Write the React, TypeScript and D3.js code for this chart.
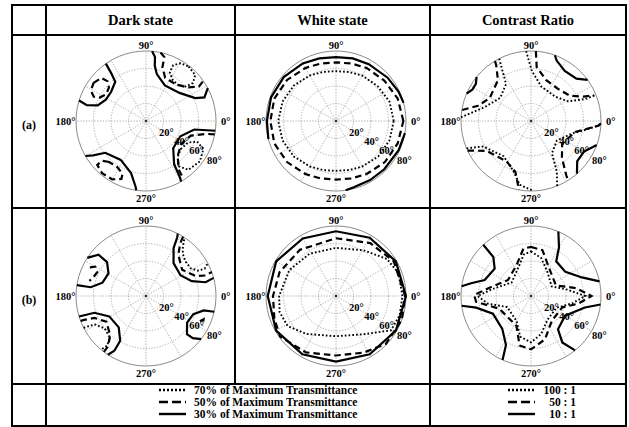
import React from "react";
import * as d3 from "d3";

type P = [number, number]; // [azimuth deg, polar angle deg]
type Style = "dotted" | "dashed" | "solid";
type Curve = { pts: P[]; style: Style; closed?: boolean };

const columnTitles = ["Dark state", "White state", "Contrast Ratio"];
const rowLabels = ["(a)", "(b)"];
const ringTicks = [20, 40, 60, 80];
const spokeAngles = [0, 30, 60, 90, 120, 150, 180, 210, 240, 270, 300, 330];
const compassLabels = ["0°", "90°", "180°", "270°"];
const transmittanceLegend = [
  "70% of Maximum Transmittance",
  "50% of Maximum Transmittance",
  "30% of Maximum Transmittance",
];
const contrastLegend = ["100 : 1", "50 : 1", "10 : 1"];
const legendStyles: Style[] = ["dotted", "dashed", "solid"];

// ---- Dark state (a)
const darkA_NE_solid: P[] = [[85, 80], [82, 74], [81, 64], [77, 55], [62, 46], [40, 50], [25, 62], [22, 72], [28, 80]];
const darkA_NE_dashed: P[] = [[78, 80], [74, 76], [73, 64], [66, 54], [51, 54], [39, 61], [33, 72], [35, 80]];
const darkA_NE_dotted: P[] = [[52, 79], [43, 77], [39, 69], [41, 60], [48, 55], [57, 56], [64, 62], [64, 71], [59, 77]];
const darkA_NW_solid: P[] = [[125, 80], [126, 68], [128, 57], [140, 52], [152, 52], [162, 58], [165, 70], [163, 80]];
const darkA_NW_dashed: P[] = [[144, 74], [136, 71], [134, 63], [138, 57], [146, 55], [153, 59], [155, 66], [151, 72]];
const darkA_SW_solid: P[] = [[210, 80], [213, 72], [218, 59], [237, 53], [254, 62], [261, 76], [262, 80]];
const darkA_SW_dashed: P[] = [[228, 63], [222, 68], [222, 75], [230, 78], [240, 77], [247, 72], [246, 66], [238, 62]];
const darkA_SE_solid: P[] = [[352, 80], [350, 56], [336, 43], [315, 44], [303, 59], [301, 76], [300, 80]];
const darkA_SE_dashed: P[] = [[349, 80], [348, 71], [342, 54], [327, 48], [312, 54], [304, 67], [303, 78]];
const darkA_SE_dotted: P[] = [[321, 51], [333, 54], [338, 63], [334, 73], [323, 77], [311, 74], [306, 64], [311, 55]];

// ---- White state (a)
const whiteA_dotted: P[] = [[0, 66], [20, 65], [40, 62], [60, 60], [75, 58], [90, 57], [105, 58], [120, 60], [140, 63], [160, 65], [180, 66], [200, 65], [220, 63], [240, 60], [255, 58], [270, 57], [285, 58], [300, 60], [320, 63], [340, 65]];
const whiteA_dashed: P[] = [[0, 77], [20, 75], [40, 72], [60, 70], [75, 68], [90, 67], [105, 68], [120, 70], [140, 73], [160, 75], [180, 75], [200, 75], [220, 73], [240, 70], [255, 68], [270, 67], [285, 68], [300, 70], [320, 73], [340, 75]];
const whiteA_solid_top: P[] = [[195, 80], [180, 79], [160, 79], [140, 78], [120, 76], [105, 74], [90, 73], [75, 74], [60, 75], [40, 77], [25, 79], [15, 80]];
const whiteA_solid_bottom: P[] = [[350, 80], [335, 79], [315, 78], [300, 78], [285, 78.5], [278, 80]];

// ---- Contrast ratio (a)
const crA_dotted_NE: P[] = [[94, 80], [89, 57], [73, 41], [46, 39], [28, 48], [22, 67], [22, 80]];
const crA_dotted_NW: P[] = [[117, 80], [124, 51], [143, 44], [163, 55], [177, 80]];
const crA_dotted_SW: P[] = [[203, 80], [208, 62], [232, 51], [250, 60], [260, 74], [272, 80]];
const crA_dotted_SE: P[] = [[292, 80], [297, 65], [303, 44], [323, 37], [343, 49], [352, 66], [357, 80]];
const crA_dashed_NE: P[] = [[86, 80], [84, 62], [70, 50], [50, 48], [33, 53], [25, 66], [22, 78]];
const crA_dashed_NW: P[] = [[121, 80], [122, 75], [129, 60], [151, 54], [164, 63], [171, 80]];
const crA_dashed_SW: P[] = [[205, 80], [214, 61], [239, 54], [253, 61], [258, 73], [260, 80]];
const crA_dashed_SE: P[] = [[358, 80], [356, 77], [346, 52], [324, 44], [310, 55], [303, 74], [302, 80]];
const crA_solid_NE: P[] = [[70, 80], [67, 75], [56, 69], [43, 71], [36, 80]];
const crA_solid_NW: P[] = [[157, 80], [152, 76], [146, 76], [141, 80]];
const crA_solid_SE: P[] = [[311, 80], [319, 70], [330, 70], [340, 80]];

// ---- Dark state (b)
const darkB_NE_solid: P[] = [[63, 80], [62, 76], [60, 63], [50, 49], [31, 46], [18, 55], [13, 70], [15, 80]];
const darkB_NE_dashed: P[] = [[58, 80], [57, 72], [52, 60], [36, 51], [22, 61], [19, 72], [20, 80]];
const darkB_NE_dotted: P[] = [[56, 78], [53, 70], [49, 64], [41, 60], [32, 60], [26, 66], [25, 74], [28, 80]];
const darkB_NW_solid: P[] = [[147, 80], [139, 72], [139, 59], [149, 50], [163, 52], [171, 64], [171, 80]];
const darkB_NW_dashed: P[] = [[153, 72], [150, 67], [154, 62], [161, 64], [165, 67]];
const darkB_SW_solid: P[] = [[197, 80], [198, 62], [209, 48], [229, 47.5], [240, 59], [240, 72], [237, 80]];
const darkB_SW_dashed: P[] = [[201, 80], [201, 77], [203, 64], [213, 54], [228, 61], [233, 73], [233, 80]];
const darkB_SW_dotted: P[] = [[207, 80], [209, 67], [218, 60], [229, 63], [232, 72], [230, 80]];
const darkB_SE_solid: P[] = [[347, 80], [346, 68], [339, 58], [327, 56], [317, 64], [318, 72], [322, 80]];
const darkB_SE_dashed: P[] = [[335, 68], [338, 71], [332, 73]];

// ---- White state (b)
const whiteB_dotted: P[] = [[0, 76], [20, 76], [36, 72], [59, 61], [90, 55], [122, 57], [151, 61], [180, 65], [196, 67], [212, 65], [232, 55], [270, 46], [306, 54], [328, 74], [343, 76]];
const whiteB_dashed: P[] = [[0, 79], [31, 77], [57, 72], [90, 66], [128, 67], [157, 70], [180, 72], [200, 75], [216, 79], [242, 73], [270, 68], [296, 72], [316, 79], [340, 80]];
const whiteB_solid: P[] = [[0, 80], [30, 79], [60, 77], [90, 74], [120, 76], [150, 79], [180, 78], [210, 79], [240, 77], [270, 75], [300, 77], [330, 79]];

// ---- Contrast ratio (b)
const crB_solid_NE: P[] = [[67, 80], [60, 64], [54, 49], [35, 48], [20, 62], [12, 80]];
const crB_solid_NW: P[] = [[133, 80], [134, 62], [143, 52], [161, 56], [168, 70], [172, 80]];
const crB_solid_SW: P[] = [[188, 80], [192, 64], [205, 48], [229, 50], [243, 63], [246, 80]];
const crB_solid_SE: P[] = [[353, 80], [348, 63], [330, 45], [309, 49], [304, 64], [309, 80]];
const crB_dashed: P[] = [[90, 56], [76, 54], [59, 39], [23, 31], [10, 52], [0, 69], [351, 55], [340, 38], [310, 37], [288, 52], [270, 61], [257, 58], [244, 38], [202, 39], [186, 63], [179, 65], [170, 50], [145, 32], [115, 39], [99, 55]];
const crB_dotted: P[] = [[90, 51], [75, 45], [55, 33], [25, 26], [10, 42], [0, 62], [350, 48], [335, 32], [305, 33], [285, 45], [270, 53], [255, 48], [240, 33], [205, 30], [190, 50], [180, 61], [170, 45], [145, 27], [115, 35], [100, 48]];

const panels: { row: number; col: number; curves: Curve[] }[] = [
  {
    row: 0, col: 0, curves: [
      { pts: darkA_NE_solid, style: "solid" }, { pts: darkA_NE_dashed, style: "dashed" }, { pts: darkA_NE_dotted, style: "dotted", closed: true },
      { pts: darkA_NW_solid, style: "solid" }, { pts: darkA_NW_dashed, style: "dashed", closed: true },
      { pts: darkA_SW_solid, style: "solid" }, { pts: darkA_SW_dashed, style: "dashed", closed: true },
      { pts: darkA_SE_solid, style: "solid" }, { pts: darkA_SE_dashed, style: "dashed" }, { pts: darkA_SE_dotted, style: "dotted", closed: true },
    ],
  },
  {
    row: 0, col: 1, curves: [
      { pts: whiteA_dotted, style: "dotted", closed: true }, { pts: whiteA_dashed, style: "dashed", closed: true },
      { pts: whiteA_solid_top, style: "solid" }, { pts: whiteA_solid_bottom, style: "solid" },
    ],
  },
  {
    row: 0, col: 2, curves: [
      { pts: crA_dotted_NE, style: "dotted" }, { pts: crA_dotted_NW, style: "dotted" }, { pts: crA_dotted_SW, style: "dotted" }, { pts: crA_dotted_SE, style: "dotted" },
      { pts: crA_dashed_NE, style: "dashed" }, { pts: crA_dashed_NW, style: "dashed" }, { pts: crA_dashed_SW, style: "dashed" }, { pts: crA_dashed_SE, style: "dashed" },
      { pts: crA_solid_NE, style: "solid" }, { pts: crA_solid_NW, style: "solid" }, { pts: crA_solid_SE, style: "solid" },
    ],
  },
  {
    row: 1, col: 0, curves: [
      { pts: darkB_NE_solid, style: "solid" }, { pts: darkB_NE_dashed, style: "dashed" }, { pts: darkB_NE_dotted, style: "dotted" },
      { pts: darkB_NW_solid, style: "solid" }, { pts: darkB_NW_dashed, style: "dashed" },
      { pts: darkB_SW_solid, style: "solid" }, { pts: darkB_SW_dashed, style: "dashed" }, { pts: darkB_SW_dotted, style: "dotted" },
      { pts: darkB_SE_solid, style: "solid" }, { pts: darkB_SE_dashed, style: "dashed" },
    ],
  },
  {
    row: 1, col: 1, curves: [
      { pts: whiteB_dotted, style: "dotted", closed: true }, { pts: whiteB_dashed, style: "dashed", closed: true }, { pts: whiteB_solid, style: "solid", closed: true },
    ],
  },
  {
    row: 1, col: 2, curves: [
      { pts: crB_solid_NE, style: "solid" }, { pts: crB_solid_NW, style: "solid" }, { pts: crB_solid_SW, style: "solid" }, { pts: crB_solid_SE, style: "solid" },
      { pts: crB_dashed, style: "dashed", closed: true }, { pts: crB_dotted, style: "dotted", closed: true },
    ],
  },
];

// ---- layout
const W = 629;
const H = 427;
const tableLeft = 12;
const tableRight = 626;
const colLines = [46, 235, 430];
const rowLines = [5, 35, 208, 384, 426];
const plotCx = [146, 336, 531];
const plotCy = [121, 296];
const R = 70;

const FONT = "'Liberation Serif', 'Times New Roman', serif";

const strokeStyles: Record<Style, { dash?: string; width: number; cap: "butt" | "round" }> = {
  dotted: { dash: "1.7 2.1", width: 1.9, cap: "butt" },
  dashed: { dash: "6.5 4", width: 2.2, cap: "butt" },
  solid: { width: 2.2, cap: "butt" },
};

function Panel({ cx, cy, curves, id }: { cx: number; cy: number; curves: Curve[]; id: string }) {
  const r = d3.scaleLinear().domain([0, 80]).range([0, R]);
  const ang = (az: number) => ((90 - az) * Math.PI) / 180;
  const openLine = d3.lineRadial<P>().angle((d) => ang(d[0])).radius((d) => r(d[1])).curve(d3.curveLinear);
  const closedLine = d3.lineRadial<P>().angle((d) => ang(d[0])).radius((d) => r(d[1])).curve(d3.curveLinearClosed);
  const xy = (az: number, rad: number): [number, number] => [
    rad * Math.cos((az * Math.PI) / 180),
    -rad * Math.sin((az * Math.PI) / 180),
  ];
  const labelAz = -30;
  return (
    <g transform={`translate(${cx},${cy})`}>
      <defs>
        <clipPath id={id}>
          <circle r={r(80) + 1.2} />
        </clipPath>
      </defs>
      {ringTicks.slice(0, -1).map((t) => (
        <circle key={t} r={r(t)} fill="none" stroke="#9a9a9a" strokeWidth={0.8} strokeDasharray="1.3 1.5" />
      ))}
      {spokeAngles.map((a) => {
        const [x, y] = xy(a, r(80));
        return <line key={a} x1={0} y1={0} x2={x} y2={y} stroke="#9a9a9a" strokeWidth={0.8} strokeDasharray="1.3 1.5" />;
      })}
      <circle r={r(80)} fill="none" stroke="#8a8a8a" strokeWidth={1} />
      <rect x={-1.2} y={-1.2} width={2.4} height={2.4} fill="#333" />
      <g clipPath={`url(#${id})`}>
        {curves.map((c, i) => {
          const s = strokeStyles[c.style];
          return (
            <path
              key={i}
              d={(c.closed ? closedLine : openLine)(c.pts) || ""}
              fill="none"
              stroke="#000"
              strokeWidth={s.width}
              strokeDasharray={s.dash}
              strokeLinecap={s.cap}
              strokeLinejoin="miter"
            />
          );
        })}
      </g>
      <g fontFamily={FONT} fontWeight="bold" fontSize={10.5} fill="#000">
        <text x={r(80) + 5} y={4} textAnchor="start">{compassLabels[0]}</text>
        <text x={0} y={-r(80) - 2.5} textAnchor="middle">{compassLabels[1]}</text>
        <text x={-r(80) - 0.5} y={4} textAnchor="end">{compassLabels[2]}</text>
        <text x={0} y={r(80) + 11} textAnchor="middle">{compassLabels[3]}</text>
        {ringTicks.map((t, i) => {
          const [x, y] = xy(labelAz, r(t) + (i === 3 ? 9 : 6));
          return (
            <text key={t} x={x} y={y + 3.5} textAnchor="middle">
              {t}°
            </text>
          );
        })}
      </g>
    </g>
  );
}

function LegendSample({ x1, x2, y, style }: { x1: number; x2: number; y: number; style: Style }) {
  const s = strokeStyles[style];
  const dash = style === "dashed" ? "9 4" : style === "dotted" ? "2 2" : undefined;
  return <line x1={x1} x2={x2} y1={y} y2={y} stroke="#000" strokeWidth={style === "solid" ? 2.4 : s.width + 0.4} strokeDasharray={dash} />;
}

export default function App() {
  const legendRows = [393, 405, 417];
  const lineStroke = { stroke: "#000", strokeWidth: 2 };
  return (
    <svg width={W} height={H} style={{ position: "absolute", left: 0, top: 0, background: "#fff" }}>
      <rect x={0} y={0} width={W} height={H} fill="#fff" />
      {/* table grid */}
      <rect x={tableLeft} y={rowLines[0]} width={tableRight - tableLeft} height={rowLines[4] - rowLines[0]} fill="none" {...lineStroke} />
      {rowLines.slice(1, 4).map((y) => (
        <line key={y} x1={tableLeft} x2={tableRight} y1={y} y2={y} {...lineStroke} />
      ))}
      <line x1={colLines[0]} x2={colLines[0]} y1={rowLines[0]} y2={rowLines[4]} {...lineStroke} />
      <line x1={colLines[1]} x2={colLines[1]} y1={rowLines[0]} y2={rowLines[3]} {...lineStroke} />
      <line x1={colLines[2]} x2={colLines[2]} y1={rowLines[0]} y2={rowLines[4]} {...lineStroke} />

      {/* headers */}
      <g fontFamily={FONT} fontWeight="bold" fontSize={14.5} textAnchor="middle">
        {columnTitles.map((t, i) => {
          const x0 = colLines[i];
          const x1 = i < 2 ? colLines[i + 1] : tableRight;
          return (
            <text key={t} x={(x0 + x1) / 2} y={25}>
              {t}
            </text>
          );
        })}
      </g>
      <g fontFamily={FONT} fontWeight="bold" fontSize={12} textAnchor="middle">
        {rowLabels.map((t, i) => (
          <text key={t} x={(tableLeft + colLines[0]) / 2} y={plotCy[i] + 8}>
            {t}
          </text>
        ))}
      </g>

      {panels.map((p, i) => (
        <Panel key={i} id={`clip${i}`} cx={plotCx[p.col]} cy={plotCy[p.row]} curves={p.curves} />
      ))}

      {/* legends */}
      <g fontFamily={FONT} fontWeight="bold" fontSize={11.5}>
        {transmittanceLegend.map((t, i) => (
          <g key={t}>
            <LegendSample x1={159} x2={186} y={legendRows[i] - 3} style={legendStyles[i]} />
            <text x={194} y={legendRows[i] + 1}>
              {t}
            </text>
          </g>
        ))}
        {contrastLegend.map((t, i) => (
          <g key={t}>
            <LegendSample x1={508} x2={535} y={legendRows[i] - 3} style={legendStyles[i]} />
            <text x={576} y={legendRows[i] + 1} textAnchor="end">
              {t}
            </text>
          </g>
        ))}
      </g>
    </svg>
  );
}
